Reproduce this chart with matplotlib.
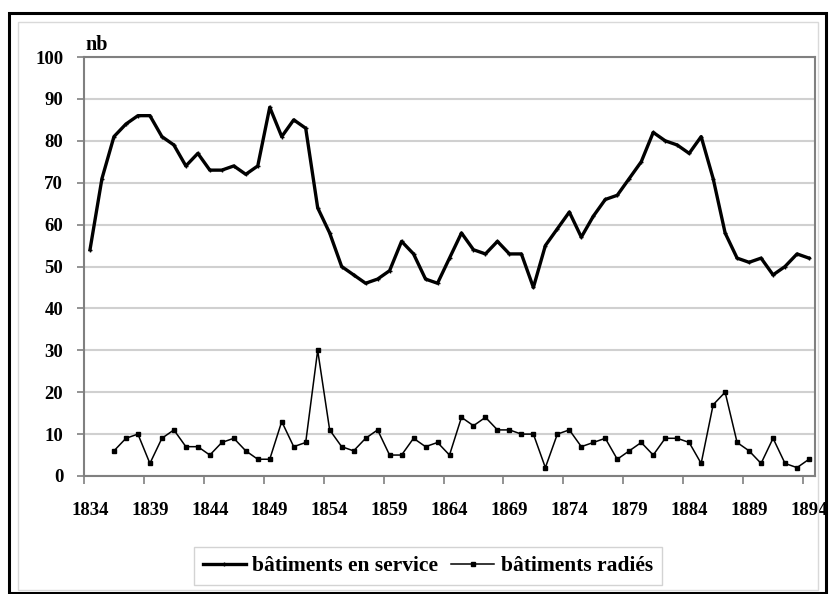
import matplotlib
matplotlib.use("Agg")
import matplotlib.pyplot as plt
import numpy as np
from matplotlib.patches import Rectangle

years = list(range(1834, 1895))
service = [54, 71, 81, 84, 86, 86, 81, 79, 74, 77,
           73, 73, 74, 72, 74, 88, 81, 85, 83, 64,
           58, 50, 48, 46, 47, 49, 56, 53, 47, 46,
           52, 58, 54, 53, 56, 53, 53, 45, 55, 59,
           63, 57, 62, 66, 67, 71, 75, 82, 80, 79,
           77, 81, 71, 58, 52, 51, 52, 48, 50, 53,
           52]
radies = [np.nan, np.nan,
          6, 9, 10, 3, 9, 11, 7, 7, 5, 8,
          9, 6, 4, 4, 13, 7, 8, 30, 11, 7,
          6, 9, 11, 5, 5, 9, 7, 8, 5, 14,
          12, 14, 11, 11, 10, 10, 2, 10, 11, 7,
          8, 9, 4, 6, 8, 5, 9, 9, 8, 3,
          17, 20, 8, 6, 3, 9, 3, 2, 4]
label_years = list(range(1834, 1895, 5))
yticks = list(range(0, 101, 10))

plt.rcParams['font.family'] = ['Liberation Serif', 'DejaVu Serif']
plt.rcParams['font.weight'] = 'bold'

W, H = 830, 594
fig = plt.figure(figsize=(W / 100, H / 100), dpi=100)

def fx(px):
    return px / W

def fy(py):
    return 1 - py / H

# outer black frame and inner light frame
fig.patches.append(Rectangle((fx(9), fy(593)), fx(826) - fx(9), fy(13) - fy(593),
                             fill=False, ec='black', lw=2.2, transform=fig.transFigure))
fig.patches.append(Rectangle((fx(18), fy(590)), fx(818) - fx(18), fy(22) - fy(590),
                             fill=False, ec='#d9d9d9', lw=1.0, transform=fig.transFigure))

ax = fig.add_axes([fx(84), fy(476), fx(815) - fx(84), fy(57) - fy(476)])

ax.plot(years, service, color='black', lw=2.4, marker='+', ms=3, mew=1, zorder=3,
        label='bâtiments en service')
ax.plot(years, radies, color='black', lw=1.1, marker='s', ms=3.2, zorder=3,
        label='bâtiments radiés')

ax.set_xlim(1833.5, 1894.5)
ax.set_ylim(0, 100)
ax.set_yticks(yticks)
ax.set_yticklabels([str(v) for v in yticks], fontsize=13.5, fontweight='bold')
ax.set_xticks(label_years)
ax.set_xticklabels([str(y) for y in label_years], fontsize=13.5, fontweight='bold')
ax.set_xticks([y - 0.5 for y in label_years], minor=True)
ax.tick_params(axis='x', which='major', length=0, pad=19)
ax.tick_params(axis='x', which='minor', length=6, width=1.2, color='#808080', direction='out')
ax.tick_params(axis='y', which='major', length=5, width=1.2, color='#808080', direction='out', pad=10)

ax.yaxis.grid(True, color='#d0d0d0', lw=1.5, zorder=0)
ax.set_axisbelow(True)
for s in ax.spines.values():
    s.set_color('#808080')
    s.set_linewidth(1.5)

fig.text(fx(85), fy(55), 'nb', fontsize=14.5, fontweight='bold', ha='left', va='bottom')

leg = fig.legend(loc='center', bbox_to_anchor=(fx(428), fy(566)), ncol=2,
                 prop={'family': 'Liberation Serif', 'weight': 'bold', 'size': 15.5},
                 frameon=True, fancybox=False, edgecolor='#c8c8c8',
                 handlelength=2.0, handletextpad=0.3, columnspacing=0.6,
                 borderpad=0.4)
leg.get_frame().set_linewidth(1.0)

fig.savefig('out.png', dpi=100)
